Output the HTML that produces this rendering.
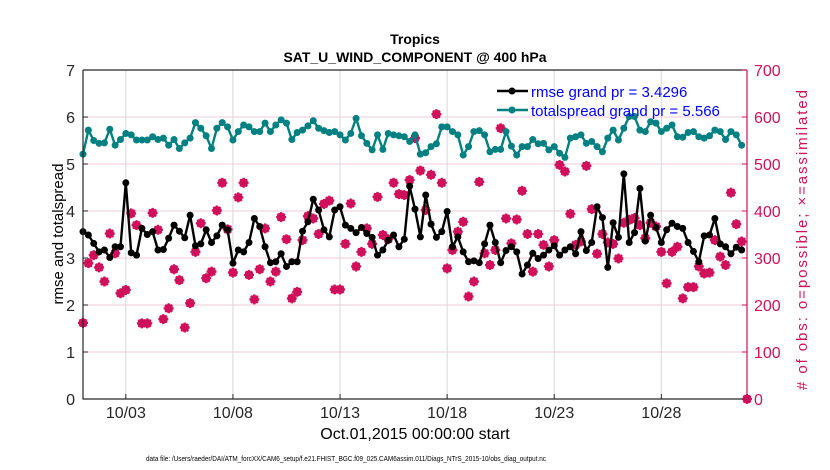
<!DOCTYPE html>
<html><head><meta charset="utf-8"><style>
body{margin:0;background:#fff;}
svg{display:block;font-family:"Liberation Sans",Arial,sans-serif;}
</style></head><body>
<svg id="chart" width="830" height="470" viewBox="0 0 830 470">
<rect width="830" height="470" fill="#fff"/>
<g id="grid"></g>
<g id="series"></g>
<g id="axes"></g>
<text x="415" y="44" text-anchor="middle" font-size="14" font-weight="bold">Tropics</text>
<text x="415" y="62" text-anchor="middle" font-size="14" font-weight="bold">SAT_U_WIND_COMPONENT @ 400 hPa</text>
<text transform="translate(63,234) rotate(-90)" text-anchor="middle" font-size="15">rmse and totalspread</text>
<text transform="translate(807,240) rotate(-90)" text-anchor="middle" font-size="15" fill="#d0105a" textLength="300" lengthAdjust="spacing"># of obs: o=possible; ×=assimilated</text>
<text x="415" y="439" text-anchor="middle" font-size="16">Oct.01,2015 00:00:00 start</text>
<text x="146" y="461" font-size="7.4" textLength="400" lengthAdjust="spacingAndGlyphs">data file: /Users/raeder/DAI/ATM_forcXX/CAM6_setup/f.e21.FHIST_BGC.f09_025.CAM6assim.011/Diags_NTrS_2015-10/obs_diag_output.nc</text>
<g>
<g>
<line x1="497" y1="91" x2="528" y2="91" stroke="#000" stroke-width="2.5"/>
<circle cx="512" cy="91" r="3.5" fill="#000"/>
<text x="531" y="97" font-size="15" fill="#0000ff">rmse grand pr = 3.4296</text>
</g>
<g>
<line x1="497" y1="110" x2="528" y2="110" stroke="#008080" stroke-width="2.5"/>
<circle cx="512" cy="110" r="3.5" fill="#008080"/>
<text x="531" y="116" font-size="15" fill="#0000ff">totalspread grand pr = 5.566</text>
</g>
</g>
</svg>
<script>
const rmse=[3.56,3.49,3.31,3.13,3.17,3.01,3.24,3.24,4.60,3.11,3.06,3.63,3.50,3.56,3.17,3.18,3.42,3.70,3.57,3.43,3.91,3.26,3.30,3.60,3.33,3.47,3.70,3.60,2.89,3.17,3.13,3.33,
3.84,3.67,3.24,2.90,2.92,3.09,2.82,2.92,2.92,3.57,3.77,4.25,4.02,3.60,3.45,4.02,4.09,3.70,3.63,3.54,3.65,3.52,3.44,3.06,3.17,3.38,3.49,3.24,3.40,4.53,
4.04,3.45,4.34,3.72,3.44,3.56,3.99,3.24,3.45,3.13,2.92,2.94,2.90,3.30,3.70,3.33,2.90,3.16,3.24,3.13,2.66,2.85,3.10,2.99,3.06,3.17,3.26,3.06,3.17,3.24,
3.09,3.56,3.16,3.33,4.09,3.86,2.80,3.75,3.44,4.79,3.33,3.54,4.48,3.36,3.91,3.65,3.33,3.60,3.74,3.67,3.63,3.33,3.14,2.92,3.47,3.49,3.84,3.30,3.24,3.09,3.23,3.17];
const spread=[5.21,5.72,5.50,5.44,5.45,5.74,5.40,5.52,5.65,5.62,5.51,5.51,5.51,5.58,5.52,5.55,5.40,5.52,5.33,5.45,5.55,5.88,5.76,5.60,5.33,5.76,5.88,5.79,5.51,5.69,5.83,5.79,
5.69,5.69,5.87,5.69,5.83,5.94,5.87,5.52,5.67,5.72,5.81,5.92,5.76,5.71,5.67,5.69,5.62,5.51,5.65,5.97,5.60,5.44,5.30,5.62,5.31,5.65,5.62,5.60,5.58,5.48,
5.62,5.21,5.24,5.37,5.43,5.79,5.79,5.69,5.62,5.19,5.37,5.69,5.71,5.62,5.26,5.31,5.31,5.69,5.38,5.19,5.37,5.37,5.52,5.43,5.44,5.30,5.37,5.23,5.14,5.55,
5.58,5.62,5.44,5.48,5.37,5.26,5.55,5.72,5.51,5.76,6.01,6.01,5.72,5.69,5.90,5.87,5.69,5.76,5.83,5.58,5.57,5.67,5.69,5.58,5.55,5.60,5.72,5.69,5.52,5.69,5.62,5.40];
const obs=[162,289,306,280,250,352,310,225,232,395,370,161,161,396,360,170,193,276,253,152,204,313,374,257,271,401,460,361,269,429,460,264,
212,276,363,250,271,387,340,214,228,338,389,384,351,415,422,233,233,330,416,282,313,363,330,430,349,340,460,436,434,466,
555,486,402,477,606,460,278,317,356,377,218,250,462,310,285,317,576,384,331,382,443,351,271,351,328,282,338,498,484,394,328,
335,496,404,309,351,333,330,299,375,381,385,370,342,375,367,313,246,313,324,214,238,238,282,267,269,338,303,285,439,372,335,0];
const yTicks=[0,1,2,3,4,5,6,7];
const y2Ticks=[0,100,200,300,400,500,600,700];
const xTickDays=[2,7,12,17,22,27];
const xTickLabels=["10/03","10/08","10/13","10/18","10/23","10/28"];
const stepDays=0.25;

const L=83,R=747,T=70,B=399,XMAX=31;
const NS='http://www.w3.org/2000/svg';
const xs=d=>L+(R-L)*d/XMAX;
const ys=v=>B-(B-T)*v/7;
const y2s=v=>B-(B-T)*v/700;
function mk(tag,attrs,parent){const e=document.createElementNS(NS,tag);for(const k in attrs)e.setAttribute(k,attrs[k]);parent.appendChild(e);return e;}
const grid=document.getElementById('grid'),ser=document.getElementById('series'),ax=document.getElementById('axes');

yTicks.forEach(v=>{if(v>0&&v<7){const l=mk('line',{x1:L,x2:R,y1:ys(v),y2:ys(v),stroke:'#f0c8d8','stroke-width':1},grid);

}});
xTickDays.forEach(d=>{const l=mk('line',{x1:xs(d),x2:xs(d),y1:T,y2:B,stroke:'#d8d8d8','stroke-width':1},grid);

});

obs.forEach((v,i)=>{const cx=xs(i*stepDays),cy=y2s(v);
const g=mk('g',{},ser);


mk('circle',{cx:cx,cy:cy,r:3.6,fill:'none',stroke:'#d0105a','stroke-width':1.6},g);
mk('path',{d:`M${cx-5},${cy}L${cx+5},${cy}M${cx},${cy-5}L${cx},${cy+5}M${cx-3.5},${cy-3.5}L${cx+3.5},${cy+3.5}M${cx-3.5},${cy+3.5}L${cx+3.5},${cy-3.5}`,stroke:'#d0105a','stroke-width':2.2},g);
mk('circle',{cx:cx,cy:cy,r:3,fill:'#d0105a'},g);});

function line(data,color,name){
const pts=data.map((v,i)=>xs(i*stepDays).toFixed(1)+','+ys(v).toFixed(1)).join(' ');
const p=mk('polyline',{points:pts,fill:'none',stroke:color,'stroke-width':2.4,'stroke-linejoin':'round'},ser);


data.forEach((v,i)=>{const c=mk('circle',{cx:xs(i*stepDays),cy:ys(v),r:3.5,fill:color},ser);

});}
line(spread,'#008080','totalspread');
line(rmse,'#000000','rmse');

const fr=mk('path',{d:`M${L},${T}L${R},${T}M${L},${T}L${L},${B}L${R},${B}`,stroke:'#262626','stroke-width':1.2,fill:'none'},ax);


const ra=mk('line',{x1:R,x2:R,y1:T,y2:B,stroke:'#d0105a','stroke-width':1.2},ax);


yTicks.forEach(v=>{mk('line',{x1:L,x2:L+5,y1:ys(v),y2:ys(v),stroke:'#262626'},ax);
const t=mk('text',{x:L-8,y:ys(v)+6,'text-anchor':'end','font-size':16,fill:'#262626'},ax);t.textContent=v;

});
y2Ticks.forEach(v=>{mk('line',{x1:R-5,x2:R,y1:y2s(v),y2:y2s(v),stroke:'#d0105a'},ax);
const t=mk('text',{x:R+7,y:y2s(v)+6,'font-size':16,fill:'#d0105a'},ax);t.textContent=v;

});
xTickDays.forEach((d,i)=>{mk('line',{x1:xs(d),x2:xs(d),y1:B,y2:B-5,stroke:'#262626'},ax);
const t=mk('text',{x:xs(d),y:B+19,'text-anchor':'middle','font-size':16,fill:'#262626'},ax);t.textContent=xTickLabels[i];

});
</script>
</body></html>
